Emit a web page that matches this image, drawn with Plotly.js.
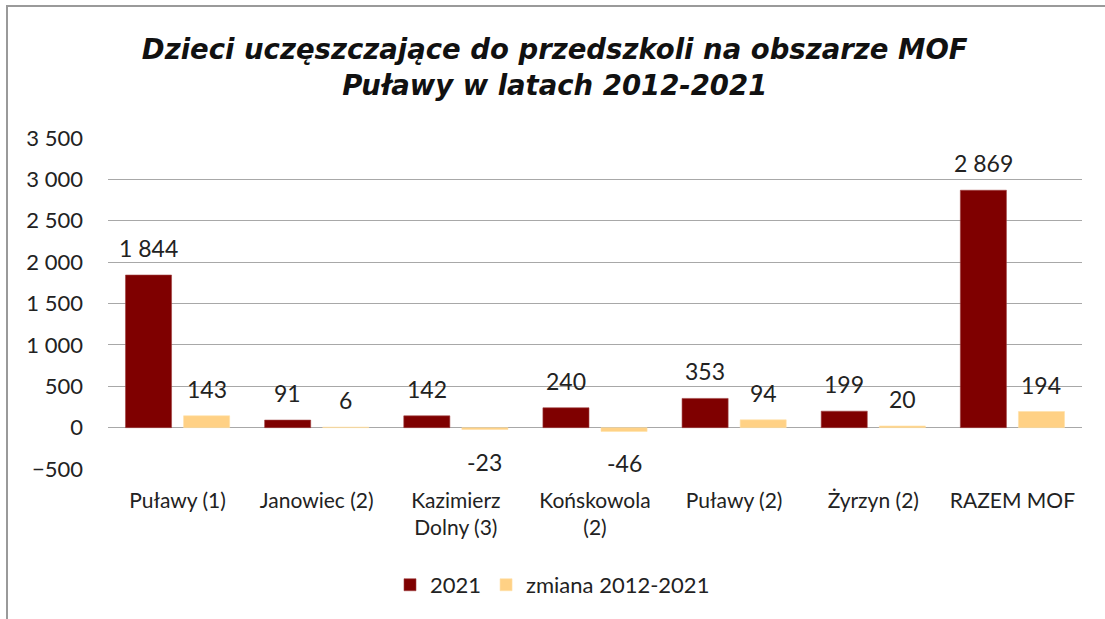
<!DOCTYPE html>
<html>
<head>
<meta charset="utf-8">
<script src="https://cdn.plot.ly/plotly-3.0.1.min.js"></script>
<style>
  html, body { margin: 0; padding: 0; background: #fff; }
  #wrap { position: relative; width: 1105px; height: 619px; }
  #chart { width: 1105px; height: 619px; }
  #frame { position: absolute; left: 6px; top: 5px; width: 1105px; height: 620px;
           border-left: 2px solid #9a9a9a; border-top: 2px solid #9a9a9a; pointer-events: none; }
</style>
</head>
<body>
<div id="wrap">
  <div id="chart"></div>
  <div id="frame"></div>
</div>
<script>
const categories = ["Puławy (1)", "Janowiec (2)", "Kazimierz<br>Dolny (3)", "Końskowola<br>(2)", "Puławy (2)", "Żyrzyn (2)", "RAZEM MOF"];
const values2021 = [1844, 91, 142, 240, 353, 199, 2869];
const valuesChange = [143, 6, -23, -46, 94, 20, 194];
const seriesNames = ["2021", "zmiana 2012-2021"];
const yTicks = [-500, 0, 500, 1000, 1500, 2000, 2500, 3000, 3500];

const colDark = "#7f0000";
const colLight = "#ffd185";
const fontFam = "Lato, 'Open Sans', sans-serif";

function fmt(v) {
  const s = String(Math.abs(v)).replace(/\B(?=(\d{3})+(?!\d))/g, " ");
  return (v < 0 ? "-" : "") + s;
}

const traces = [
  { type: "bar", name: seriesNames[0], x: categories, y: values2021,
    marker: { color: colDark, line: { color: "#a04040", width: 0.6 } }, hoverinfo: "y" },
  { type: "bar", name: seriesNames[1], x: categories, y: valuesChange,
    marker: { color: colLight, line: { color: "#ffe0a8", width: 0.6 } }, hoverinfo: "y" }
];

const annotations = [];
[values2021, valuesChange].forEach((arr, si) => {
  arr.forEach((v, i) => {
    annotations.push({
      x: categories[i], y: v, xref: "x", yref: "y",
      text: fmt(v), showarrow: false,
      xshift: si === 0 ? -29 : 29,
      yshift: v >= 0 ? 27 : -32,
      yanchor: "middle", xanchor: "center",
      font: { family: fontFam, size: 23, color: "#222" }
    });
  });
});

const layout = {
  width: 1105, height: 619,
  paper_bgcolor: "#fff", plot_bgcolor: "#fff",
  separators: ", ",
  margin: { l: 108, r: 23, t: 138, b: 150 },
  title: {
    text: "<b><i>Dzieci uczęszczające do przedszkoli na obszarze MOF<br>Puławy w latach 2012-2021</i></b>",
    font: { family: "'DejaVu Sans', sans-serif", size: 27.5, color: "#111" },
    x: 0.502, xanchor: "center", y: 0.905, yanchor: "top"
  },
  barmode: "group",
  bargap: 0.165,
  bargroupgap: 0.207,
  xaxis: {
    type: "category",
    showgrid: false, zeroline: false, showline: false, ticks: "",
    tickfont: { family: fontFam, size: 21, color: "#222" },
    ticklabelstandoff: 17
  },
  yaxis: {
    range: [-500, 3500],
    tickvals: yTicks, tickformat: ",d",
    showgrid: true, gridcolor: "#a8a8a8", gridwidth: 1,
    zeroline: true, zerolinecolor: "#a8a8a8", zerolinewidth: 1,
    showline: false, ticks: "",
    tickfont: { family: fontFam, size: 22, color: "#222" },
    ticklabelstandoff: 24
  },
  legend: {
    orientation: "h", x: 0.5, xanchor: "center", xref: "container",
    y: 0.055, yref: "container", yanchor: "middle",
    font: { family: fontFam, size: 22, color: "#222" },
    itemwidth: 30, traceorder: "normal"
  },
  annotations: annotations,
  showlegend: true
};

Plotly.newPlot("chart", traces, layout, { displayModeBar: false, staticPlot: true });
</script>
</body>
</html>
